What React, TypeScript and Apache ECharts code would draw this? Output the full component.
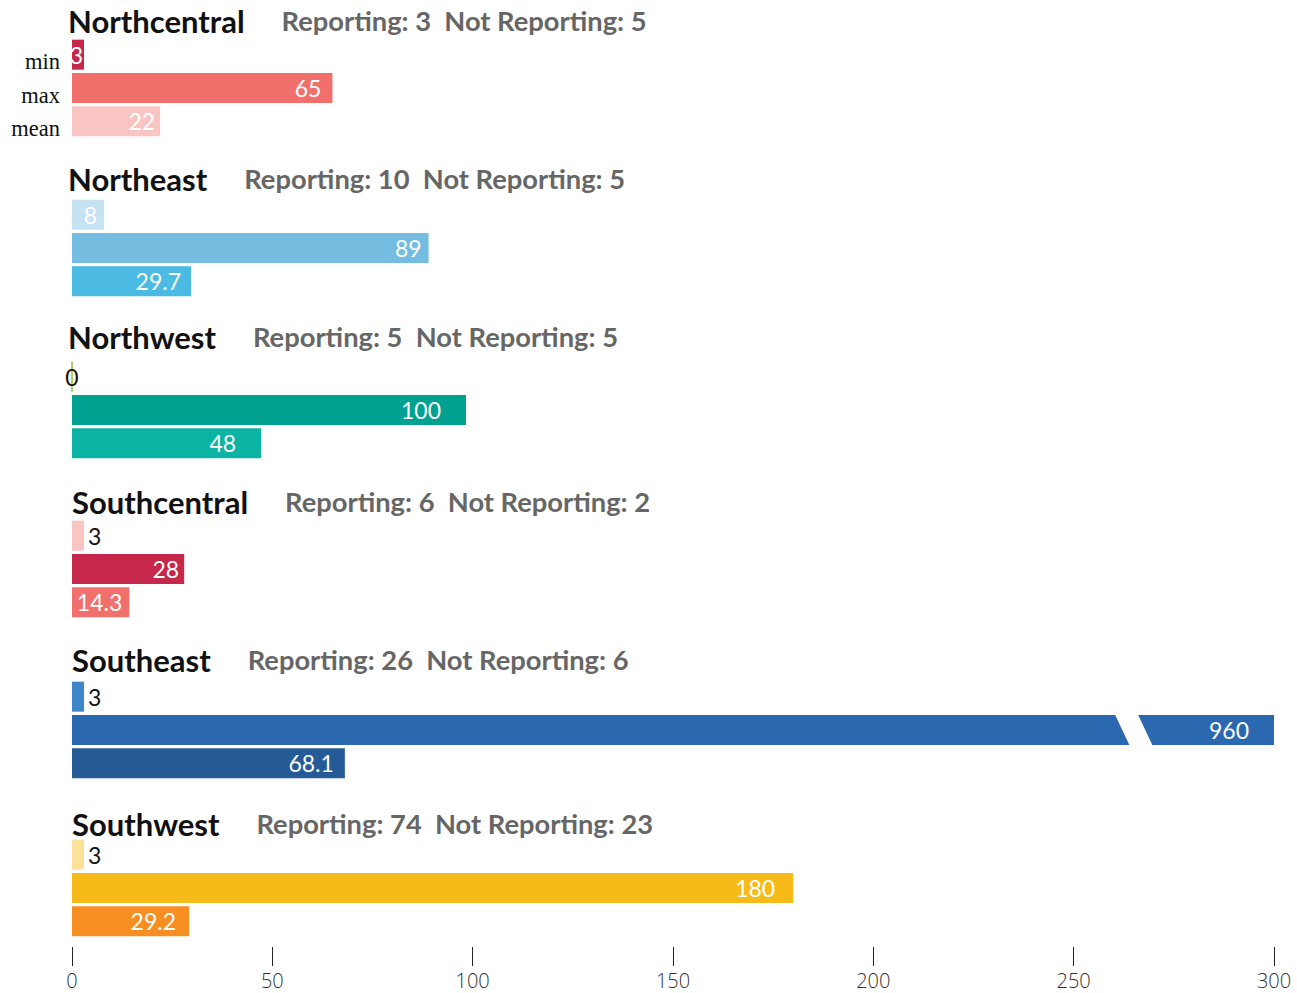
import React, { useEffect, useRef } from "react";
import * as echarts from "echarts";

const regions = ["Northcentral", "Northeast", "Northwest", "Southcentral", "Southeast", "Southwest"];
const reporting = [3, 10, 5, 6, 26, 74];
const notReporting = [5, 5, 5, 2, 6, 23];
const statCategories = ["min", "max", "mean"];
const minValues = [3, 8, 0, 3, 3, 3];
const maxValues = [65, 89, 100, 28, 960, 180];
const meanValues = [22, 29.7, 48, 14.3, 68.1, 29.2];
const axisMin = 0;
const axisMax = 300;
const axisInterval = 50;
const breakValue = 265;

// styles
const barColors = [
  ["#c5284a", "#f2706b", "#f9c5c3"],
  ["#c6e3f3", "#74bde0", "#4bbbe4"],
  ["#8cc63f", "#00a190", "#0ab3a2"],
  ["#f9c5c3", "#c5284a", "#f2706b"],
  ["#3f86c8", "#2a68b0", "#245a96"],
  ["#fbe19a", "#f7bb19", "#f68e22"],
];
const minLabelMode = ["insideWhite", "insideWhite", "center", "outside", "outside", "outside"];
const minLabelDist = [1, 7, 0, 4, 4, 4];
const maxLabelDist = [11, 7, 25, 5, 25, 18];
const meanLabelDist = [5, 10, 25, 7, 11, 13];
const gridTops = [38, 198, 360, 519, 680, 838];
const gridRights = [23, 23, 43, 23, 23, 23];
const titleTops = [5, 163, 321, 486, 644, 808];
const titleLefts = [68, 68, 68, 72, 72, 72];
const FONT = "Lato";

export default function App() {
  const ref = useRef<HTMLDivElement>(null);
  useEffect(() => {
    if (!ref.current) return;
    const chart = echarts.init(ref.current, undefined, { renderer: "svg" });
    const n = regions.length;

    const labelFor = (v: number, mode: string, distance: number) => {
      const base = { show: true, fontFamily: FONT, fontSize: 23, formatter: () => String(v) };
      if (mode === "outside") return { ...base, position: "right", distance, color: "#111" };
      if (mode === "center") return { ...base, position: "inside", color: "#111" };
      return { ...base, position: "insideRight", distance, color: "#fff" };
    };

    const grids = regions.map((_, i) => ({ left: 72, right: gridRights[i], top: gridTops[i], height: 100, containLabel: false }));
    const xAxes = regions.map((_, i) => ({
      type: "value",
      gridIndex: i,
      min: axisMin,
      max: axisMax,
      interval: axisInterval,
      show: i === n - 1,
      offset: 9,
      axisLine: { show: false },
      splitLine: { show: false },
      axisTick: { show: true, length: 19, lineStyle: { color: "#222", width: 1 } },
      axisLabel: { margin: 23, fontFamily: "Open Sans", fontWeight: 300, fontSize: 20, color: "#333" },
    }));
    const yAxes = regions.map((_, i) => ({
      type: "category",
      gridIndex: i,
      data: statCategories,
      inverse: true,
      axisLine: { show: false },
      axisTick: { show: false },
      axisLabel: {
        show: i === 0,
        margin: 12,
        verticalAlign: "top",
        lineHeight: 14,
        fontFamily: "Liberation Serif",
        fontSize: 22.5,
        color: "#111",
      },
    }));
    const series = regions.map((_, i) => {
      const vals = [minValues[i], maxValues[i], meanValues[i]];
      const dists = [minLabelDist[i], maxLabelDist[i], meanLabelDist[i]];
      return {
        type: "bar",
        xAxisIndex: i,
        yAxisIndex: i,
        barWidth: 30,
        data: vals.map((v, k) => ({
          value: Math.min(v, axisMax),
          itemStyle:
            v === 0
              ? { color: barColors[i][k], borderColor: barColors[i][k], borderWidth: 1 }
              : { color: barColors[i][k] },
          label: labelFor(v, k === 0 ? minLabelMode[i] : "insideWhite", dists[k]),
        })),
      };
    });
    const titles = regions.map((r, i) => ({
      left: titleLefts[i],
      top: titleTops[i],
      padding: 0,
      text: `{a|${r}}{b|Reporting: ${reporting[i]}  Not Reporting: ${notReporting[i]}}`,
      textStyle: {
        rich: {
          a: { fontFamily: FONT, fontWeight: "bold", fontSize: 31, color: "#111", padding: [0, 37, 0, 0] },
          b: { fontFamily: FONT, fontWeight: "bold", fontSize: 27.3, color: "#666" },
        },
      },
    }));

    chart.setOption({
      animation: false,
      backgroundColor: "#fff",
      title: titles,
      grid: grids,
      xAxis: xAxes,
      yAxis: yAxes,
      series,
    });

    // axis break mark for values beyond the axis max
    const graphics: any[] = [];
    regions.forEach((_, i) => {
      const vals = [minValues[i], maxValues[i], meanValues[i]];
      vals.forEach((v, k) => {
        if (v > axisMax) {
          const p = chart.convertToPixel({ gridIndex: i } as any, [breakValue, statCategories[k]]) as number[];
          const [cx, cy] = p;
          graphics.push({
            type: "polygon",
            z: 100,
            shape: {
              points: [
                [cx - 19.5, cy - 17],
                [cx + 3.5, cy - 17],
                [cx + 19.5, cy + 17],
                [cx - 3.5, cy + 17],
              ],
            },
            style: { fill: "#fff" },
          });
        }
      });
    });
    chart.setOption({ graphic: graphics });

    return () => chart.dispose();
  }, []);
  return <div ref={ref} style={{ width: 1297, height: 993, position: "absolute", left: 0, top: 0 }} />;
}
